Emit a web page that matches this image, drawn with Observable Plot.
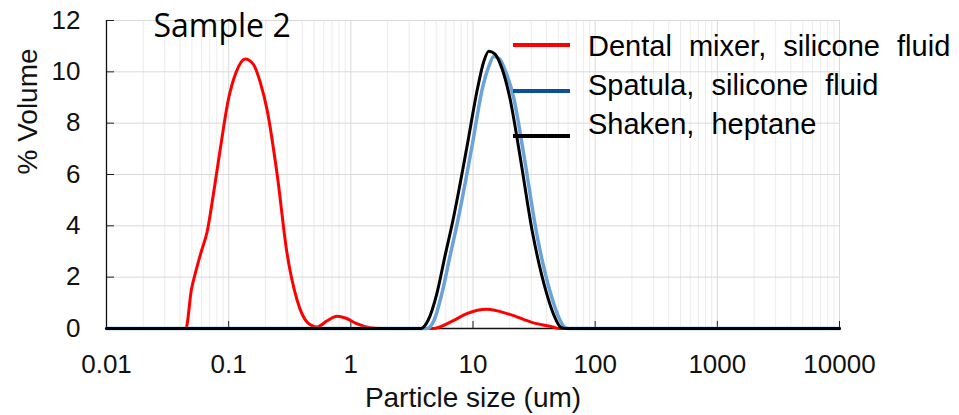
<!DOCTYPE html>
<html><head><meta charset="utf-8">
<script src="https://cdn.jsdelivr.net/npm/d3@7"></script>
<script src="https://cdn.jsdelivr.net/npm/@observablehq/plot@0.6"></script>
<style>
body{margin:0;background:#fff}
#chart{position:relative;width:959px;height:415px}
</style>
</head><body><div id="chart"></div>
<script>
// ---- data ----
const seriesNames = ["Dental mixer, silicone fluid", "Spatula, silicone fluid", "Shaken, heptane"];
const lineColors = ["#ff0000", "#6aa2da", "#000000"];
const legendColors = ["#ff0000", "#0b4f9c", "#000000"];

const dentalSize = [0.01, 0.04462, 0.04948, 0.05437, 0.05972, 0.06686, 0.07483, 0.0854, 0.09924, 0.1154, 0.1367, 0.1589, 0.1812, 0.2067, 0.2494, 0.3011, 0.3635, 0.4387, 0.5296, 0.6392, 0.7716, 0.9138, 1.103, 1.435, 1.732, 4.695, 6.84, 8.9, 12.97, 20.0, 30.8, 44.9, 51.2, 10000];
const dentalVolume = [0, 0, 1.5, 2.3, 3.0, 3.8, 5.2, 7.0, 8.9, 10.0, 10.5, 10.3, 9.6, 8.5, 6.0, 2.9, 1.1, 0.25, 0.06, 0.3, 0.48, 0.4, 0.2, 0.03, 0, 0, 0.3, 0.58, 0.75, 0.55, 0.23, 0.06, 0, 0];

const spatulaSize = [0.01, 4.19, 4.78, 5.56, 6.47, 7.51, 9.77, 12.0, 13.45, 14.79, 16.55, 18.19, 21.5, 26.0, 33.2, 43.2, 50.2, 56.2, 60.6, 10000];
const spatulaVolume = [0, 0, 0.3, 1.36, 2.8, 4.2, 7.05, 9.4, 10.2, 10.6, 10.5, 10.1, 9.0, 6.8, 3.7, 1.36, 0.45, 0.05, 0, 0];

const shakenSize = [0.01, 3.746, 4.272, 5.06, 5.884, 6.84, 8.9, 10.94, 12.25, 13.45, 15.07, 16.55, 20.0, 24.1, 30.8, 40.1, 46.6, 52.2, 57.3, 10000];
const shakenVolume = [0, 0, 0.3, 1.36, 2.8, 4.2, 7.05, 9.4, 10.4, 10.8, 10.7, 10.36, 9.0, 6.8, 3.7, 1.36, 0.45, 0.05, 0, 0];

const xTicks = [0.01, 0.1, 1, 10, 100, 1000, 10000];
const xTickLabels = ["0.01", "0.1", "1", "10", "100", "1000", "10000"];
const yTicks = [0, 2, 4, 6, 8, 10, 12];
const minorMultipliers = [2, 3, 4, 5, 6, 7, 8, 9];

// ---- build tables ----
const toRows = (sizes, vols, name) => sizes.map((s, i) => ({size: s, volume: vols[i], series: name}));
const dental = toRows(dentalSize, dentalVolume, seriesNames[0]);
const spatula = toRows(spatulaSize, spatulaVolume, seriesNames[1]);
const shaken = toRows(shakenSize, shakenVolume, seriesNames[2]);
const minorGrid = xTicks.slice(0, -1).flatMap(d => minorMultipliers.map(m => d * m));

const font = "'Liberation Sans', Arial, sans-serif";

const plot = Plot.plot({
  width: 959,
  height: 415,
  marginLeft: 106,
  marginRight: 120,
  marginTop: 20,
  marginBottom: 87,
  style: {fontFamily: font, fontSize: "26px", color: "#111", background: "white", overflow: "visible"},
  x: {type: "log", domain: [0.01, 10000], label: null},
  y: {domain: [0, 12], label: null},
  marks: [
    Plot.ruleX(minorGrid, {stroke: "#ececec", strokeWidth: 1}),
    Plot.ruleX(xTicks, {stroke: "#d9d9d9", strokeWidth: 1}),
    Plot.ruleY(yTicks.filter(d => d > 0), {stroke: "#d9d9d9", strokeWidth: 1}),
    Plot.axisX(xTicks, {tickSize: -7, tickPadding: 33, tickFormat: d => xTickLabels[xTicks.indexOf(d)], fontSize: 26, label: null, stroke: "#222"}),
    Plot.axisY(yTicks, {tickSize: -8, tickPadding: 34, fontSize: 26, label: null, stroke: "#222"}),
    Plot.ruleX([0.01], {stroke: "#111", strokeWidth: 1.3}),
    Plot.ruleY([0], {stroke: "#111", strokeWidth: 1.5}),
    Plot.line(dental, {x: "size", y: "volume", stroke: lineColors[0], strokeWidth: 3, curve: "monotone-x"}),
    Plot.line(spatula, {x: "size", y: "volume", stroke: lineColors[1], strokeWidth: 3.5, curve: "monotone-x"}),
    Plot.line(shaken, {x: "size", y: "volume", stroke: lineColors[2], strokeWidth: 3, curve: "monotone-x"}),
    Plot.text(["Particle size (um)"], {frameAnchor: "bottom", dy: 78, lineAnchor: "bottom", fontSize: 28, fill: "#111"}),
    Plot.text(["% Volume"], {frameAnchor: "left", dx: -78, rotate: -90, lineAnchor: "middle", fontSize: 28, fill: "#111"}),
    Plot.text(["Sample 2"], {frameAnchor: "top-left", dx: 47, dy: 16, lineAnchor: "bottom", textAnchor: "start", fontSize: 32, fontFamily: "'Open Sans', 'Noto Sans', sans-serif", fill: "#000"})
  ]
});

document.getElementById("chart").appendChild(plot);

// ---- legend ----
const svg = d3.select(plot);
const legend = svg.append("g").attr("class", "legend").attr("text-anchor", "start");
const swatchY = [45, 91, 136];
const textBase = [56, 95, 134];
seriesNames.forEach((name, i) => {
  legend.append("line")
    .attr("x1", 513).attr("x2", 570)
    .attr("y1", swatchY[i]).attr("y2", swatchY[i])
    .attr("stroke", legendColors[i]).attr("stroke-width", 4);
  legend.append("text")
    .attr("x", 588).attr("y", textBase[i])
    .attr("text-anchor", "start")
    .attr("font-family", font).attr("font-size", 29)
    .attr("word-spacing", 9)
    .attr("fill", "#000")
    .text(name);
});
</script>
</body></html>
